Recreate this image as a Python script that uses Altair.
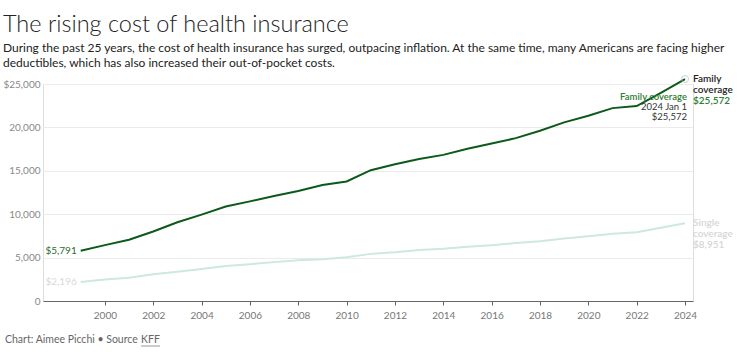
import altair as alt
import pandas as pd

years = list(range(1999, 2025))
family = [5791, 6438, 7061, 8003, 9068, 9950, 10880, 11480, 12106, 12680, 13375, 13770,
          15073, 15745, 16351, 16834, 17545, 18142, 18764, 19616, 20576, 21342, 22221,
          22463, 23968, 25572]
single = [2196, 2471, 2689, 3083, 3383, 3695, 4024, 4242, 4479, 4704, 4824, 5049,
          5429, 5615, 5884, 6025, 6251, 6435, 6690, 6896, 7188, 7470, 7739, 7911,
          8435, 8951]
series_names = ["Family", "Single"]
y_ticks = [0, 5000, 10000, 15000, 20000, 25000]
x_ticks = list(range(2000, 2025, 2))

DARK = "#0b5a1a"
LIGHT = "#cde8de"
FONT = "Lato"

rows = []
for y, f, s in zip(years, family, single):
    rows.append({"year": y, "value": f, "series": "Family"})
    rows.append({"year": y, "value": s, "series": "Single"})
df = pd.DataFrame(rows)

W, H = 650, 217
xs = alt.Scale(domain=[1997.44, 2024.33], nice=False, zero=False)
ys = alt.Scale(domain=[0, 25000], nice=False)
X = alt.X("year:Q", scale=xs, axis=alt.Axis(values=x_ticks, format="d", title=None, grid=False,
          domainColor="#666", tickColor="#666", tickSize=4, labelColor="#777",
          labelFontSize=10, labelPadding=5, labelFont=FONT))
Y = alt.Y("value:Q", scale=ys, axis=alt.Axis(values=y_ticks, title=None, domain=False, ticks=False,
          gridColor="#ebebeb", labelColor="#888", labelFontSize=10, labelPadding=3, labelFont=FONT,
          labelExpr="datum.value == 25000 ? '$' + format(datum.value, ',') : format(datum.value, ',')"))
color = alt.Color("series:N", scale=alt.Scale(domain=series_names, range=[DARK, LIGHT]), legend=None)

lines = alt.Chart(df).mark_line(strokeWidth=2).encode(x=X, y=Y, color=color, order="year:Q")

start_df = pd.DataFrame({"year": [1999, 1999], "value": [family[0], single[0]],
                         "series": series_names,
                         "label": ["$" + format(family[0], ","), "$" + format(single[0], ",")],
                         "tc": ["#2e6b30", "#d8d8d8"]})
start = alt.Chart(start_df).mark_text(align="right", baseline="middle", dx=-4, fontSize=10,
                                      font=FONT).encode(
    x=alt.X("year:Q", scale=xs), y=alt.Y("value:Q", scale=ys), text="label:N",
    color=alt.Color("tc:N", scale=None))

end_rows = []
labels = {"Family": ("Family", "coverage", "#222", "#2e7d32"), "Single": ("Single", "coverage", "#d6d6d6", "#d6d6d6")}
for name, val in zip(series_names, [family[-1], single[-1]]):
    l1, l2, c1, c2 = labels[name]
    end_rows.append({"year": 2024, "value": val, "label": l1, "k": 0, "tc": c1})
    end_rows.append({"year": 2024, "value": val, "label": l2, "k": 1, "tc": c1})
    end_rows.append({"year": 2024, "value": val, "label": "$" + format(val, ","), "k": 2, "tc": c2})
end_df = pd.DataFrame(end_rows)
end_layers = []
for k in range(3):
    end_layers.append(alt.Chart(end_df[end_df.k == k]).mark_text(
        align="left", baseline="middle", dx=8, dy=11 * k, fontSize=10, fontWeight=600, font=FONT).encode(
        x=alt.X("year:Q", scale=xs), y=alt.Y("value:Q", scale=ys), text="label:N",
        color=alt.Color("tc:N", scale=None)))

tip_df = pd.DataFrame({"year": [2024] * 3, "value": [family[-1]] * 3,
                       "label": ["Family coverage", "2024 Jan 1", "$" + format(family[-1], ",")],
                       "k": [0, 1, 2], "tc": ["#2e7d32", "#333", "#333"]})
tip_layers = []
for k in range(3):
    tip_layers.append(alt.Chart(tip_df[tip_df.k == k]).mark_text(
        align="right", baseline="middle", dx=2, dy=18 + 10 * k, fontSize=9.5,
        fontWeight=600 if k == 0 else 400, font=FONT).encode(
        x=alt.X("year:Q", scale=xs), y=alt.Y("value:Q", scale=ys), text="label:N",
        color=alt.Color("tc:N", scale=None)))

pt = alt.Chart(tip_df[tip_df.k == 0]).mark_point(shape="circle", size=50, filled=False,
                                                  stroke="#bbb", strokeWidth=1).encode(
    x=alt.X("year:Q", scale=xs), y=alt.Y("value:Q", scale=ys))

foot_df = pd.DataFrame({"t": ["Chart: Aimee Picchi \u2022 Source", "KFF"], "k": [0, 1]})
foot1 = alt.Chart(foot_df[foot_df.k == 0]).mark_text(align="left", baseline="middle", fontSize=10.5,
                                                     color="#666", font=FONT).encode(
    text="t:N", x=alt.value(-38), y=alt.value(H + 39))
foot2 = alt.Chart(foot_df[foot_df.k == 1]).mark_text(align="left", baseline="middle", fontSize=10.5,
                                                     color="#666", font=FONT).encode(
    text="t:N", x=alt.value(98), y=alt.value(H + 39))
foot_rule = alt.Chart(foot_df[foot_df.k == 1]).mark_rule(color="#999", strokeWidth=1).encode(
    x=alt.value(98), x2=alt.value(117), y=alt.value(H + 45))

chart = alt.layer(lines, start, *end_layers, *tip_layers, pt, foot1, foot2, foot_rule).properties(
    width=W, height=H,
    title=alt.TitleParams(
        text="The rising cost of health insurance",
        subtitle=["During the past 25 years, the cost of health insurance has surged, outpacing inflation. At the same time, many Americans are facing higher",
                  "deductibles, which has also increased their out-of-pocket costs."],
        anchor="start", font=FONT, fontSize=23.5, fontWeight=300, color="#222",
        subtitleFont=FONT, subtitleFontSize=12, subtitleColor="#222", subtitleLineHeight=15,
        subtitlePadding=7, offset=4),
    autosize=alt.AutoSizeParams(type="none"),
    padding={"left": 43, "top": 84, "right": 47, "bottom": 51},
).configure_view(stroke=None).configure(background="white")

chart.save("out.html", embed_options={"renderer": "svg", "actions": False})
